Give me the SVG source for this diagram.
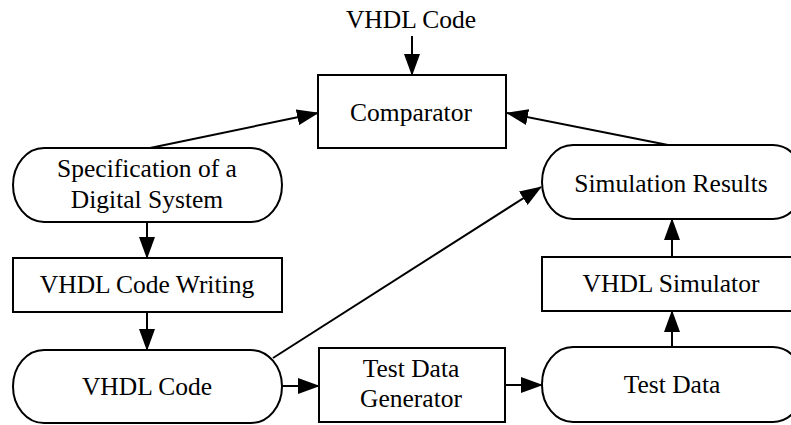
<svg xmlns="http://www.w3.org/2000/svg" width="791" height="425" viewBox="0 0 791 425">
<style>
.shape{fill:#fff;stroke:#000;stroke-width:2}
.lbl{font-family:"Liberation Serif","Times New Roman",serif;font-size:25.5px;fill:#000;text-anchor:middle}
.conn{stroke:#000;stroke-width:2;fill:none;marker-end:url(#ah)}
</style>
<defs>
<marker id="ah" markerWidth="22" markerHeight="16" refX="21" refY="8" orient="auto" markerUnits="userSpaceOnUse">
<path d="M0,0 L22,8 L0,16 z" fill="#000"/>
</marker>
</defs>
<rect width="791" height="425" fill="#fff"/>
<g id="vhdl-code-top"><text class="lbl" x="411" y="28">VHDL Code</text></g>
<g id="comparator"><rect class="shape" x="318" y="75" width="188" height="73"/><text class="lbl" x="411" y="121">Comparator</text></g>
<g id="specification"><rect class="shape" x="13" y="148" width="269" height="74" rx="31" ry="37"/><text class="lbl" x="147" y="177">Specification of a</text><text class="lbl" x="147" y="208">Digital System</text></g>
<g id="code-writing"><rect class="shape" x="13" y="258" width="269" height="54"/><text class="lbl" x="147" y="293">VHDL Code Writing</text></g>
<g id="vhdl-code"><rect class="shape" x="13" y="350" width="269" height="73" rx="31" ry="37"/><text class="lbl" x="147" y="395">VHDL Code</text></g>
<g id="test-data-generator"><rect class="shape" x="319" y="348" width="186" height="74"/><text class="lbl" x="411" y="377">Test Data</text><text class="lbl" x="411" y="407">Generator</text></g>
<g id="test-data"><rect class="shape" x="542" y="347" width="262" height="75" rx="31" ry="37"/><text class="lbl" x="672" y="393">Test Data</text></g>
<g id="simulator"><rect class="shape" x="542" y="257" width="262" height="54"/><text class="lbl" x="671" y="292">VHDL Simulator</text></g>
<g id="simulation-results"><rect class="shape" x="542" y="145" width="262" height="74" rx="31" ry="37"/><text class="lbl" x="671" y="192">Simulation Results</text></g>
<g id="connectors">
<line class="conn" x1="412" y1="36" x2="412" y2="75"/>
<line class="conn" x1="150" y1="148" x2="318" y2="113"/>
<line class="conn" x1="668" y1="145" x2="507" y2="113"/>
<line class="conn" x1="147" y1="222" x2="147" y2="258"/>
<line class="conn" x1="147" y1="312" x2="147" y2="350"/>
<line class="conn" x1="273" y1="358" x2="541" y2="187"/>
<line class="conn" x1="282" y1="386" x2="319" y2="386"/>
<line class="conn" x1="505" y1="385" x2="542" y2="385"/>
<line class="conn" x1="672" y1="347" x2="672" y2="311"/>
<line class="conn" x1="672" y1="257" x2="672" y2="219"/>
</g>
</svg>
